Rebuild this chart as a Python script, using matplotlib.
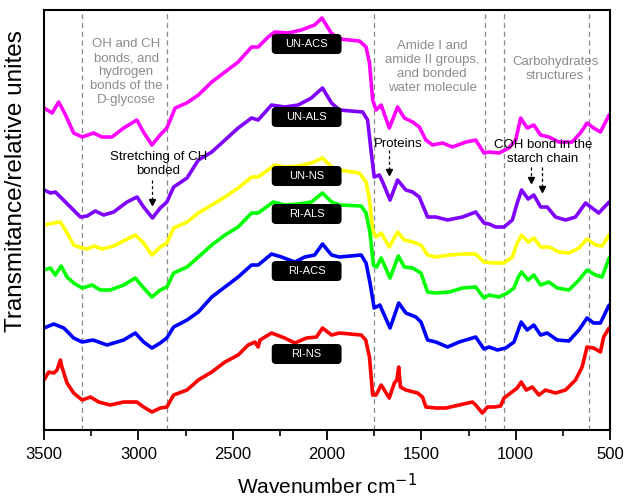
import numpy as np
import matplotlib.pyplot as plt
from matplotlib.patches import FancyBboxPatch
from matplotlib.ticker import MultipleLocator

plt.rcParams['font.family'] = ['Liberation Sans', 'DejaVu Sans']

# wavenumber (cm-1) and transmittance (relative units, stacked) per sample
wn_un_acs = [3500, 3457, 3422, 3386, 3343, 3298, 3237, 3193, 3140, 3078, 3008, 2973, 2928, 2885, 2849, 2805,
             2744, 2682, 2611, 2541, 2471, 2400, 2365, 2312, 2277, 2207, 2136, 2066, 2027, 1978, 1934, 1828,
             1793, 1775, 1758, 1740, 1713, 1670, 1626, 1590, 1546, 1511, 1476, 1441, 1388, 1335, 1264, 1212,
             1168, 1141, 1088, 1036, 1000, 974, 939, 904, 868, 824, 771, 701, 657, 622, 587, 551, 505]
t_un_acs = [322, 317, 328, 315, 297, 293, 297, 293, 293, 302, 310, 298, 285, 295, 302, 322,
            327, 335, 348, 358, 368, 383, 383, 393, 398, 397, 400, 405, 412, 397, 391, 389,
            383, 367, 330, 320, 325, 302, 323, 312, 308, 303, 290, 285, 287, 283, 288, 290,
            277, 278, 277, 282, 290, 312, 302, 305, 295, 293, 288, 288, 297, 307, 302, 298, 315]

wn_un_als = [3500, 3466, 3440, 3413, 3360, 3307, 3272, 3228, 3184, 3131, 3060, 3007, 2972, 2925, 2884, 2849,
             2813, 2742, 2682, 2611, 2541, 2471, 2400, 2365, 2294, 2224, 2153, 2083, 2024, 1976, 1934, 1811,
             1785, 1767, 1750, 1723, 1705, 1666, 1626, 1582, 1546, 1511, 1467, 1423, 1361, 1282, 1212, 1168,
             1141, 1106, 1062, 1018, 992, 969, 934, 904, 868, 833, 789, 736, 683, 630, 595, 560, 505]
t_un_als = [240, 237, 238, 233, 223, 213, 214, 219, 215, 218, 228, 233, 223, 212, 222, 228,
            243, 252, 270, 278, 290, 302, 312, 310, 325, 323, 325, 332, 342, 327, 320, 318,
            310, 280, 253, 255, 248, 230, 250, 240, 238, 233, 213, 213, 210, 213, 218, 207,
            206, 203, 203, 210, 227, 240, 231, 235, 223, 223, 213, 210, 213, 227, 222, 217, 228]

wn_un_ns = [3500, 3448, 3413, 3378, 3343, 3298, 3272, 3233, 3193, 3131, 3069, 3016, 2972, 2928, 2884, 2849,
            2813, 2742, 2682, 2611, 2541, 2471, 2400, 2365, 2277, 2224, 2153, 2083, 2024, 1976, 1934, 1828,
            1793, 1775, 1758, 1740, 1713, 1670, 1626, 1590, 1546, 1502, 1467, 1423, 1352, 1282, 1212, 1168,
            1115, 1062, 1018, 992, 969, 934, 904, 868, 824, 771, 718, 665, 622, 577, 542, 505]
t_un_ns = [205, 207, 208, 197, 185, 182, 181, 184, 181, 184, 190, 195, 187, 175, 183, 187,
           202, 208, 217, 225, 233, 242, 253, 253, 265, 263, 264, 267, 272, 263, 260, 257,
           248, 230, 200, 193, 197, 183, 198, 190, 188, 185, 175, 173, 175, 176, 176, 168,
           167, 167, 173, 187, 195, 188, 192, 183, 183, 178, 177, 182, 191, 185, 184, 195]

wn_ri_als = [3500, 3466, 3440, 3409, 3378, 3343, 3298, 3245, 3202, 3149, 3078, 3016, 2972, 2928, 2884, 2849,
             2813, 2742, 2682, 2611, 2541, 2471, 2400, 2365, 2285, 2224, 2153, 2083, 2024, 1976, 1934, 1819,
             1793, 1772, 1754, 1737, 1713, 1666, 1622, 1590, 1546, 1502, 1467, 1423, 1352, 1282, 1212, 1168,
             1141, 1088, 1044, 1009, 986, 969, 934, 904, 868, 824, 780, 718, 665, 622, 577, 542, 505]
t_ri_als = [160, 162, 155, 164, 153, 147, 142, 145, 140, 140, 145, 152, 142, 133, 140, 143,
            157, 163, 173, 185, 195, 203, 217, 217, 228, 225, 226, 228, 237, 228, 225, 224,
            217, 197, 165, 163, 172, 152, 174, 163, 162, 157, 138, 137, 138, 142, 143, 132,
            135, 133, 137, 142, 153, 158, 150, 155, 145, 148, 142, 140, 150, 160, 155, 153, 172]

wn_ri_acs = [3500, 3448, 3395, 3343, 3298, 3240, 3166, 3078, 3016, 2972, 2928, 2884, 2849, 2813, 2742, 2682,
             2611, 2541, 2471, 2400, 2365, 2294, 2241, 2171, 2118, 2066, 2024, 1976, 1934, 1819, 1793, 1772,
             1750, 1720, 1666, 1620, 1582, 1529, 1502, 1467, 1423, 1361, 1300, 1212, 1168, 1141, 1097, 1053,
             1009, 971, 939, 904, 868, 833, 780, 718, 665, 622, 587, 551, 505]
t_ri_acs = [102, 106, 102, 92, 88, 90, 85, 90, 97, 88, 82, 87, 92, 103, 110, 118,
            133, 143, 153, 165, 165, 176, 173, 168, 173, 175, 186, 175, 173, 175, 167, 147,
            122, 125, 102, 127, 117, 113, 108, 90, 88, 83, 88, 93, 81, 83, 80, 82,
            88, 108, 100, 105, 95, 97, 90, 89, 100, 112, 107, 107, 125]

wn_ri_ns = [3500, 3475, 3448, 3431, 3413, 3405, 3378, 3343, 3298, 3254, 3210, 3149, 3078, 3008, 2972, 2928,
            2884, 2849, 2813, 2742, 2682, 2611, 2541, 2471, 2418, 2382, 2365, 2355, 2294, 2224, 2171, 2109,
            2056, 2024, 1976, 1934, 1819, 1795, 1775, 1758, 1740, 1713, 1670, 1643, 1630, 1620, 1611, 1582,
            1520, 1494, 1476, 1423, 1370, 1300, 1229, 1212, 1177, 1150, 1115, 1080, 1062, 1027, 992, 971,
            944, 912, 877, 842, 789, 736, 683, 648, 622, 587, 551, 534, 505]
t_ri_ns = [50, 58, 57, 60, 70, 63, 47, 37, 30, 33, 28, 25, 28, 28, 23, 18,
           22, 23, 35, 40, 50, 58, 68, 75, 85, 88, 83, 90, 97, 92, 87, 92,
           93, 102, 95, 97, 95, 90, 73, 35, 35, 45, 32, 47, 50, 63, 43, 40,
           37, 33, 23, 22, 22, 25, 28, 25, 17, 23, 23, 24, 32, 37, 42, 48,
           40, 43, 35, 40, 37, 40, 50, 63, 83, 82, 78, 93, 102]

samples = ['UN-ACS', 'UN-ALS', 'UN-NS', 'RI-ALS', 'RI-ACS', 'RI-NS']
colors = ['#ff00ff', '#7f00ff', '#ffff00', '#00ff00', '#0000ff', '#ff0000']
wns = [wn_un_acs, wn_un_als, wn_un_ns, wn_ri_als, wn_ri_acs, wn_ri_ns]
ts = [t_un_acs, t_un_als, t_un_ns, t_ri_als, t_ri_acs, t_ri_ns]
label_t = [386, 313, 254, 216, 159, 76]   # vertical position of the sample tags

region_lines = [3300, 2850, 1750, 1165, 1060, 610]

fig = plt.figure(figsize=(6.26, 5.03), dpi=100)
ax = fig.add_axes([0.0703, 0.1451, 0.9042, 0.8350])

for x in region_lines:
    ax.axvline(x, color='#888888', ls=(0, (4, 3)), lw=0.9, zorder=1)

for w, t, c in zip(wns, ts, colors):
    ax.plot(w, t, color=c, lw=2.6, solid_joinstyle='round', solid_capstyle='round', zorder=2)

# black sample tags (rounded boxes, same size for all)
bx, bw, bh = 2108, 370, 20
for name, yt in zip(samples, label_t):
    box = FancyBboxPatch((bx - bw / 2, yt - bh / 2), bw, bh,
                         boxstyle='round,pad=0,rounding_size=22',
                         mutation_aspect=0.19, fc='black', ec='black', lw=0, zorder=4)
    ax.add_patch(box)
    ax.text(bx, yt, name, color='white', fontsize=8, ha='center', va='center', zorder=5)

# region descriptions
gray = '#8c8c8c'
ax.text(3065, 358, 'OH and CH\nbonds, and\nhydrogen\nbonds of the\nD-glycose', color=gray,
        fontsize=9.5, ha='center', va='center', linespacing=1.2)
ax.text(1443, 363, 'Amide I and\namide II groups,\nand bonded\nwater molecule', color=gray,
        fontsize=9.5, ha='center', va='center', linespacing=1.2)
ax.text(791, 361, 'Carbohydrates\nstructures', color=gray,
        fontsize=9.5, ha='center', va='center', linespacing=1.2)

# band annotations
ax.text(2895, 266, 'Stretching of CH\nbonded', fontsize=9.5, ha='center', va='center', linespacing=1.2)
ax.text(1624, 286, 'Proteins', fontsize=9.5, ha='center', va='center')
ax.text(855, 278, 'COH bond in the\nstarch chain', fontsize=9.5, ha='center', va='center', linespacing=1.2)

arrows = [(2928, 250, 226), (1671, 280, 256), (919, 263, 248), (858, 263, 239)]
for x, y0, y1 in arrows:
    ax.plot([x, x], [y0, y1 + 3], color='black', lw=0.9, ls=(0, (2.5, 2)), zorder=3)
    ax.plot([x], [y1 + 2], marker='v', color='black', ms=4, zorder=3)

ax.set_xlim(3500, 500)
ax.set_ylim(0, 420)
ax.xaxis.set_major_locator(MultipleLocator(500))
ax.xaxis.set_minor_locator(MultipleLocator(250))
ax.tick_params(axis='x', which='major', direction='out', length=7, width=1.3, labelsize=12, pad=5)
ax.tick_params(axis='x', which='minor', direction='out', length=4, width=1.2)
ax.set_yticks([])
for s in ax.spines.values():
    s.set_linewidth(1.5)

ax.set_xlabel('Wavenumber cm$^{-1}$', fontsize=15, labelpad=8)
ax.set_ylabel('Transmitance/relative unites', fontsize=17.5)
ax.yaxis.set_label_coords(-0.030, 0.593)

plt.savefig('out.png', dpi=100)
